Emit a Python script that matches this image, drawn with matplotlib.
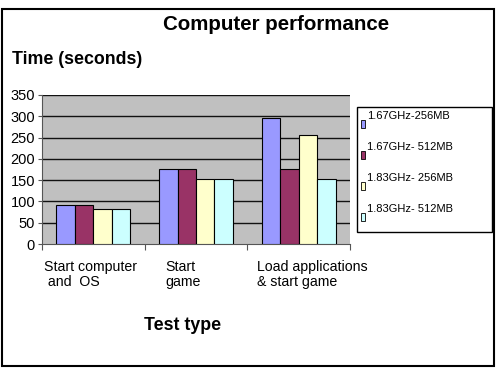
import matplotlib
matplotlib.use("Agg")
import matplotlib.pyplot as plt
from matplotlib.patches import Rectangle
import numpy as np

plt.rcParams['font.family'] = ['Liberation Sans', 'DejaVu Sans']

categories = ["Start computer\n and  OS", "Start\ngame", "Load applications\n& start game"]
series = ["1.67GHz-256MB", "1.67GHz- 512MB", "1.83GHz- 256MB", "1.83GHz- 512MB"]
values = {
    "1.67GHz-256MB": [92, 177, 295],
    "1.67GHz- 512MB": [92, 177, 177],
    "1.83GHz- 256MB": [83, 153, 256],
    "1.83GHz- 512MB": [83, 153, 153],
}
colors = ["#9999ff", "#993366", "#ffffcc", "#ccffff"]
yticks = [0, 50, 100, 150, 200, 250, 300, 350]

W, H = 500, 378
fig = plt.figure(figsize=(W / 100, H / 100), dpi=100)

def fx(px):
    return px / W

def fy(py):
    return 1 - py / H

# outer border
fig.patches.append(Rectangle((fx(2), fy(366)), fx(494) - fx(2), fy(9) - fy(366),
                             transform=fig.transFigure, fill=False, ec='black', lw=1.5))

ax = fig.add_axes([fx(42), fy(244), fx(350) - fx(42), fy(95) - fy(244)])
ax.set_facecolor('#c0c0c0')
x = np.arange(len(categories))
bw = 0.18
for i, s in enumerate(series):
    ax.bar(x + (i - 1.5) * bw, values[s], width=bw, color=colors[i],
           edgecolor='black', linewidth=0.8, zorder=3)

ax.set_xlim(-0.5, len(categories) - 0.5)
ax.set_ylim(0, 350)
ax.set_yticks(yticks)
ax.set_yticklabels([str(t) for t in yticks], fontsize=10.5)
for t in yticks[1:]:
    ax.axhline(t, color='#111111', lw=1.0, zorder=1)
ax.set_xticks(np.arange(len(categories) + 1) - 0.5)
ax.set_xticklabels([])
ax.tick_params(axis='x', length=4, width=0.8, color='#555555', direction='out')
ax.tick_params(axis='y', length=3, width=0.8, color='#555555', pad=2)
for sp in ['top', 'right']:
    ax.spines[sp].set_visible(False)
ax.spines['left'].set_color('#555555')
ax.spines['bottom'].set_color('#555555')

# category labels
label_px = [44, 165, 257]
for c, lx in zip(categories, label_px):
    fig.text(fx(lx), fy(260), c, fontsize=10.2, ha='left', va='top', linespacing=1.05)

fig.text(fx(276), fy(25), "Computer performance", fontsize=14.8, fontweight='bold',
         ha='center', va='center')
fig.text(fx(12), fy(60), "Time (seconds)", fontsize=12.8, fontweight='bold',
         ha='left', va='center')
fig.text(fx(183), fy(326), "Test type", fontsize=12.8, fontweight='bold',
         ha='center', va='center')

# legend
fig.patches.append(Rectangle((fx(357), fy(232)), fx(492) - fx(357), fy(107) - fy(232),
                             transform=fig.transFigure, fill=False, ec='black', lw=1.0))
for i, s in enumerate(series):
    ty = 116 + i * 31
    fig.patches.append(Rectangle((fx(361), fy(ty + 12)), fx(4), fy(0) - fy(8),
                                 transform=fig.transFigure, fc=colors[i], ec='black', lw=0.6))
    fig.text(fx(367), fy(ty), s, fontsize=8, ha='left', va='center')

fig.savefig("out.png", dpi=100)
